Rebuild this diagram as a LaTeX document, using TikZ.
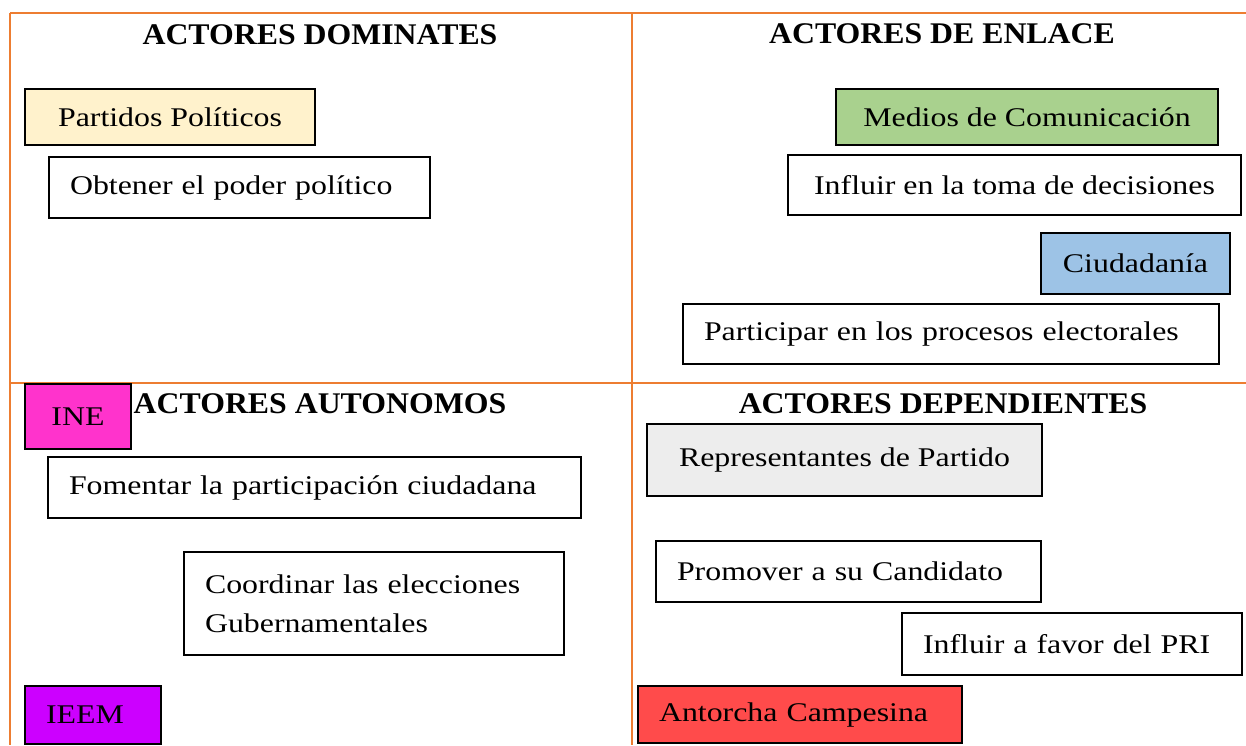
\documentclass[tikz,border=0pt]{standalone}
\usepackage{fontspec}
\setmainfont{Liberation Serif}[FakeStretch=1.18]
\newfontfamily\headfont{Liberation Serif}[FakeStretch=1.06]
\usetikzlibrary{positioning}
\definecolor{gridline}{HTML}{ED7D31}
\definecolor{cream}{HTML}{FFF2CC}
\definecolor{media}{HTML}{A9D18E}
\definecolor{citizen}{HTML}{9DC3E6}
\definecolor{ine}{HTML}{FF33CC}
\definecolor{ieem}{HTML}{CC00FF}
\definecolor{party}{HTML}{EDEDED}
\definecolor{torch}{HTML}{FF4B4B}
\tikzset{
  font=\fontsize{13.5}{19.5}\selectfont,
  grid/.style={draw=gridline, line width=1pt},
  title/.style={font=\headfont\fontsize{15}{19.5}\selectfont\bfseries, anchor=base, inner sep=0pt},
  box/.style={draw=black, line width=1pt, anchor=north west, align=left,
              inner xsep=10.5pt, inner ysep=0pt, fill=white},
  actor/.style={box, align=center, inner xsep=0pt},
}

\begin{document}
\begin{tikzpicture}[x=0.5pt, y=-0.5pt]
\useasboundingbox (0,0) rectangle (1246,745);

% --- table lines ------------------------------------------------------------------------
\draw[grid] (10,13) -- (1246,13);
\draw[grid] (10,13) -- (10,745);
\draw[grid] (632,13) -- (632,745);
\draw[grid] (10,383) -- (1246,383);

% --- titles -----------------------------------------------------------------------------
\node[title] (tdom) at (320,44) {ACTORES DOMINATES};
\node[title] (tenl) at (942,43) {ACTORES DE ENLACE};
\node[title] (taut) at (320,413) {ACTORES AUTONOMOS};
\node[title] (tdep) at (943,413) {ACTORES DEPENDIENTES};

% --- dominant actors --------------------------------------------------------------------
\node[actor, fill=cream, minimum width=145pt, minimum height=28pt] (partidos) at (24,88) {Partidos Políticos};
\node[box, text width=169.5pt, minimum height=30.5pt] (obtener) at (48,156) {Obtener el poder político};

% --- linking actors ---------------------------------------------------------------------
\node[actor, fill=media, minimum width=191pt, minimum height=28pt] (medios) at (835,88) {Medios de Comunicación};
\node[actor, minimum width=226.5pt, minimum height=30pt] (toma) at (787,154) {Influir en la toma de decisiones};
\node[actor, fill=citizen, minimum width=94.5pt, minimum height=30.5pt] (ciudadania) at (1040,232) {Ciudadanía};
\node[box, text width=247pt, minimum height=30pt] (participar) at (682,303) {Participar en los procesos electorales};

% --- autonomous actors ------------------------------------------------------------------
\node[actor, fill=ine, minimum width=53pt, minimum height=32.5pt] (ine) at (24,383) {INE};
\node[box, text width=245.5pt, minimum height=30.5pt] (fomentar) at (47,456) {Fomentar la participación ciudadana};
\node[box, text width=169pt, minimum height=51.5pt] (coordinar) at (183,551) {Coordinar las elecciones\\Gubernamentales};
\node[box, fill=ieem, text width=47pt, minimum height=29pt] (ieem) at (24,685) {IEEM};

% --- dependent actors -------------------------------------------------------------------
\node[actor, fill=party, minimum width=197.5pt, minimum height=36pt] (repr) at (646,423) {Representantes de Partido};
\node[box, text width=171.5pt, minimum height=30.5pt] (promover) at (655,540) {Promover a su Candidato};
\node[box, text width=149pt, minimum height=31pt] (pri) at (901,612) {Influir a favor del PRI};
\node[box, fill=torch, text width=141pt, minimum height=28.5pt] (antorcha) at (637,685) {Antorcha Campesina};

\end{tikzpicture}
\end{document}
